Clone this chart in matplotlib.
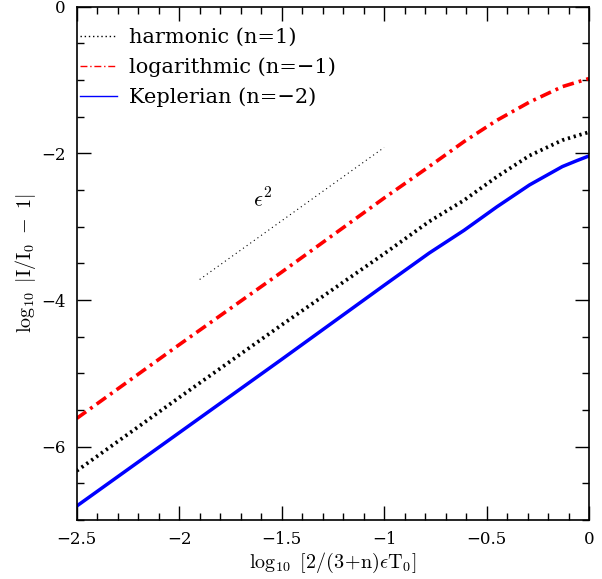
import numpy as np
import matplotlib.pyplot as plt
from matplotlib.lines import Line2D

plt.rcParams['font.family'] = 'DejaVu Serif'
plt.rcParams['mathtext.fontset'] = 'cm'

# data
x = [-2.5, -2.0, -1.5, -1.0, -0.78, -0.61, -0.45, -0.29, -0.13, -0.06, 0.0]
y_harm = [-6.33, -5.33, -4.34, -3.37, -2.93, -2.64, -2.32, -2.03, -1.82, -1.76, -1.71]
y_log = [-5.615, -4.61, -3.62, -2.61, -2.18, -1.84, -1.55, -1.30, -1.09, -1.03, -0.98]
y_kep = [-6.81, -5.81, -4.81, -3.80, -3.36, -3.05, -2.73, -2.43, -2.18, -2.10, -2.035]
ref_x = [-1.9, -1.0]
ref_y = [-3.72, -1.92]

labels = ['harmonic (n=1)', 'logarithmic (n=\u22121)', 'Keplerian (n=\u22122)']

fig = plt.figure(figsize=(6.02, 5.79), dpi=100)
ax = fig.add_axes([0.1274, 0.1019, 0.851, 0.8865])

ax.plot(x, y_harm, color='black', linestyle=(0, (0.6, 1.0)), linewidth=2.7)
ax.plot(x, y_log, color='red', linestyle=(0, (3.2, 1.4, 0.8, 1.4)), linewidth=2.6)
ax.plot(x, y_kep, color='blue', linestyle='-', linewidth=2.5)
ax.plot(ref_x, ref_y, color='black', linestyle=(0, (1, 3)), linewidth=0.8)
ax.text(-1.59, -2.64, r'$\epsilon^2$', fontsize=16, ha='center', va='center')

handles = [
    Line2D([], [], color='black', linestyle=(0, (1, 2)), linewidth=1.0),
    Line2D([], [], color='red', linestyle=(0, (5, 2, 1, 2)), linewidth=1.0),
    Line2D([], [], color='blue', linestyle='-', linewidth=1.0),
]
ax.legend(handles, labels, loc='upper left', frameon=False, fontsize=15,
          handlelength=1.8, handletextpad=0.55, labelspacing=0.5,
          borderpad=0, borderaxespad=0, bbox_to_anchor=(0.0064, 0.958))

ax.set_xlim(-2.5, 0)
ax.set_ylim(-7, 0)
ax.set_xticks([-2.5, -2, -1.5, -1, -0.5, 0])
ax.set_xticklabels(['\u22122.5', '\u22122', '\u22121.5', '\u22121', '\u22120.5', '0'])
ax.set_yticks([-6, -4, -2, 0])
ax.set_yticklabels(['\u22126', '\u22124', '\u22122', '0'])
ax.set_xticks(np.arange(-2.5, 0.001, 0.1), minor=True)
ax.set_yticks(np.arange(-7, 0.001, 0.5), minor=True)
ax.tick_params(which='both', direction='in', top=True, right=True, labelsize=12)
ax.tick_params(which='major', length=10, width=1)
ax.tick_params(which='minor', length=5, width=1)
ax.tick_params(axis='x', pad=8)
ax.tick_params(axis='y', pad=8)
for s in ax.spines.values():
    s.set_linewidth(1.2)

ax.set_xlabel(r'$\log_{10}\ [2/(3\!+\!\mathrm{n})\epsilon \mathrm{T}_0]$', fontsize=14.5, labelpad=2)
ax.set_ylabel(r'$\log_{10}\ |\mathrm{I}/\mathrm{I}_0\ -\ 1|$', fontsize=14.5, labelpad=2)

fig.savefig('out.png', dpi=100)
